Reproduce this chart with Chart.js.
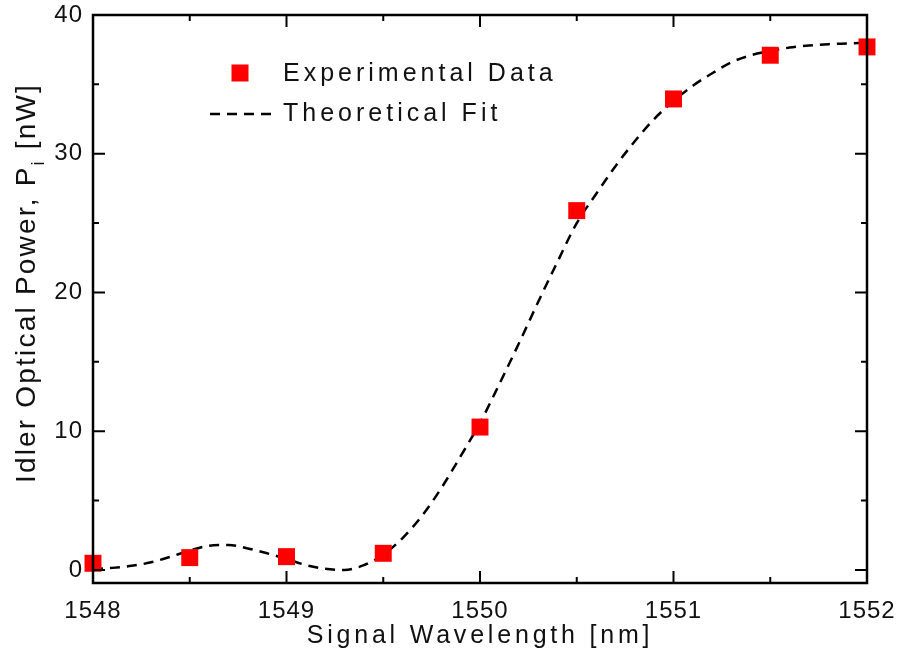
<!DOCTYPE html>
<html><head><meta charset="utf-8">
<script src="https://cdn.jsdelivr.net/npm/chart.js@4.4.1/dist/chart.umd.min.js"></script>
<style>html,body{margin:0;padding:0;background:#fff}#wrap{width:900px;height:655px}</style>
</head><body><div id="wrap"><canvas id="c" width="900" height="655"></canvas></div>
<script>
const expX = [1548, 1548.5, 1549, 1549.5, 1550, 1550.5, 1551, 1551.5, 1552];
const expY = [0.48, 0.89, 0.96, 1.2, 10.3, 25.9, 33.95, 37.1, 37.7];
const fitX = [1548.0,1548.1,1548.2,1548.3,1548.4,1548.5,1548.6,1548.7,1548.8,1548.9,
              1549.0,1549.1,1549.2,1549.3,1549.4,1549.5,1549.6,1549.7,1549.8,1549.9,
              1550.0,1550.1,1550.2,1550.3,1550.4,1550.5,1550.6,1550.7,1550.8,1550.9,
              1551.0,1551.1,1551.2,1551.3,1551.4,1551.5,1551.6,1551.7,1551.8,1551.9,1552.0];
const fitY = [0.05,0.15,0.3,0.55,0.95,1.4,1.75,1.8,1.55,1.2,
              0.8,0.35,0.08,0.0,0.35,1.1,2.3,3.9,5.9,8.2,
              10.6,13.4,16.3,19.3,22.2,25.0,27.1,29.1,30.9,32.5,
              33.8,34.9,35.8,36.6,37.1,37.4,37.65,37.8,37.9,37.95,38.0];
const xTicks = [1548, 1549, 1550, 1551, 1552];
const yTicks = [0, 10, 20, 30, 40];
const xMinor = [1548.5, 1549.5, 1550.5, 1551.5];
const yMinor = [5, 15, 25, 35];
const xTitle = 'Signal Wavelength [nm]';
const yTitleMain = 'Idler Optical Power, P';
const yTitleSub = 'i';
const yTitleEnd = ' [nW]';
const labels = ['Experimental Data', 'Theoretical Fit'];

const FONT = '"Liberation Sans", Arial, sans-serif';
const TXT = '#111';

const decor = {
  id: 'decor',
  beforeDraw(chart) {
    chart.ctx.letterSpacing = '1px';
  },
  afterDraw(chart) {
    const ctx = chart.ctx, a = chart.chartArea;
    const xs = chart.scales.x, ys = chart.scales.y;
    ctx.save();
    ctx.strokeStyle = '#000';
    ctx.lineWidth = 2;
    ctx.setLineDash([]);
    const tick = (len, vals, horiz) => {
      vals.forEach(v => {
        ctx.beginPath();
        if (horiz) {
          const px = xs.getPixelForValue(v);
          ctx.moveTo(px, a.bottom); ctx.lineTo(px, a.bottom - len);
          ctx.moveTo(px, a.top); ctx.lineTo(px, a.top + len);
        } else {
          const py = ys.getPixelForValue(v);
          ctx.moveTo(a.left, py); ctx.lineTo(a.left + len, py);
          ctx.moveTo(a.right, py); ctx.lineTo(a.right - len, py);
        }
        ctx.stroke();
      });
    };
    tick(12, xTicks, true); tick(6, xMinor, true);
    tick(12, yTicks, false); tick(6, yMinor, false);
    ctx.lineWidth = 2.5;
    ctx.strokeRect(a.left, a.top, a.right - a.left, a.bottom - a.top);

    // x title
    ctx.fillStyle = TXT;
    ctx.letterSpacing = '3.8px';
    ctx.font = '25px ' + FONT;
    ctx.textAlign = 'left';
    ctx.textBaseline = 'alphabetic';
    const wx = ctx.measureText(xTitle).width;
    ctx.fillText(xTitle, 480 - wx / 2, 643);

    // y title rotated, with subscript
    ctx.save();
    ctx.translate(35, 283);
    ctx.rotate(-Math.PI / 2);
    ctx.letterSpacing = '2.2px';
    ctx.font = '28px ' + FONT;
    const w1 = ctx.measureText(yTitleMain).width;
    ctx.font = '18px ' + FONT;
    const w2 = ctx.measureText(yTitleSub).width;
    ctx.font = '28px ' + FONT;
    const w3 = ctx.measureText(yTitleEnd).width;
    let sx = -(w1 + w2 + w3) / 2;
    ctx.fillText(yTitleMain, sx, 0); sx += w1;
    ctx.font = '18px ' + FONT;
    ctx.fillText(yTitleSub, sx, 9); sx += w2;
    ctx.font = '28px ' + FONT;
    ctx.fillText(yTitleEnd, sx, 0);
    ctx.restore();

    // legend
    const ds = chart.data.datasets;
    ctx.letterSpacing = '4px';
    ctx.font = '25px ' + FONT;
    ctx.textBaseline = 'middle';
    ctx.fillStyle = ds[0].backgroundColor;
    ctx.fillRect(240 - 8.5, 73 - 8.5, 17, 17);
    ctx.fillStyle = TXT;
    ctx.fillText(ds[0].label, 283, 74);
    ctx.strokeStyle = ds[1].borderColor;
    ctx.lineWidth = ds[1].borderWidth;
    ctx.setLineDash(ds[1].borderDash);
    ctx.beginPath(); ctx.moveTo(210, 114); ctx.lineTo(277, 114); ctx.stroke();
    ctx.setLineDash([]);
    ctx.fillText(ds[1].label, 283, 114);
    ctx.restore();
  }
};

new Chart(document.getElementById('c'), {
  type: 'scatter',
  data: {
    datasets: [
      {
        label: labels[0],
        data: expX.map((x, i) => ({x, y: expY[i]})),
        backgroundColor: '#ff0000',
        borderColor: '#ff0000',
        borderWidth: 0,
        pointStyle: 'rect',
        pointRadius: 12,
        showLine: false,
        order: 1
      },
      {
        label: labels[1],
        data: fitX.map((x, i) => ({x, y: fitY[i]})),
        borderColor: '#000',
        borderWidth: 2.5,
        borderDash: [10, 7],
        pointRadius: 0,
        showLine: true,
        cubicInterpolationMode: 'monotone',
        order: 2
      }
    ]
  },
  options: {
    responsive: false,
    animation: false,
    clip: false,
    layout: { padding: { top: 15, right: 33, left: 0, bottom: 0 } },
    plugins: { legend: { display: false }, tooltip: { enabled: false } },
    scales: {
      x: {
        type: 'linear', min: 1548, max: 1552,
        grid: { display: false, drawTicks: false },
        border: { display: false },
        afterBuildTicks: s => { s.ticks = xTicks.map(v => ({value: v})); },
        afterFit: s => { s.height = 72; s.paddingLeft = 0; s.paddingRight = 0; },
        ticks: { color: TXT, font: { family: FONT, size: 24 }, padding: 14, maxRotation: 0,
                 callback: v => String(v) }
      },
      y: {
        type: 'linear', min: -0.94, max: 40,
        grid: { display: false, drawTicks: false },
        border: { display: false },
        afterBuildTicks: s => { s.ticks = yTicks.map(v => ({value: v})); },
        afterFit: s => { s.width = 93; s.paddingTop = 0; s.paddingBottom = 0; },
        ticks: { color: TXT, font: { family: FONT, size: 24 }, padding: 10,
                 callback: v => String(v) }
      }
    }
  },
  plugins: [decor]
});
</script></body></html>
